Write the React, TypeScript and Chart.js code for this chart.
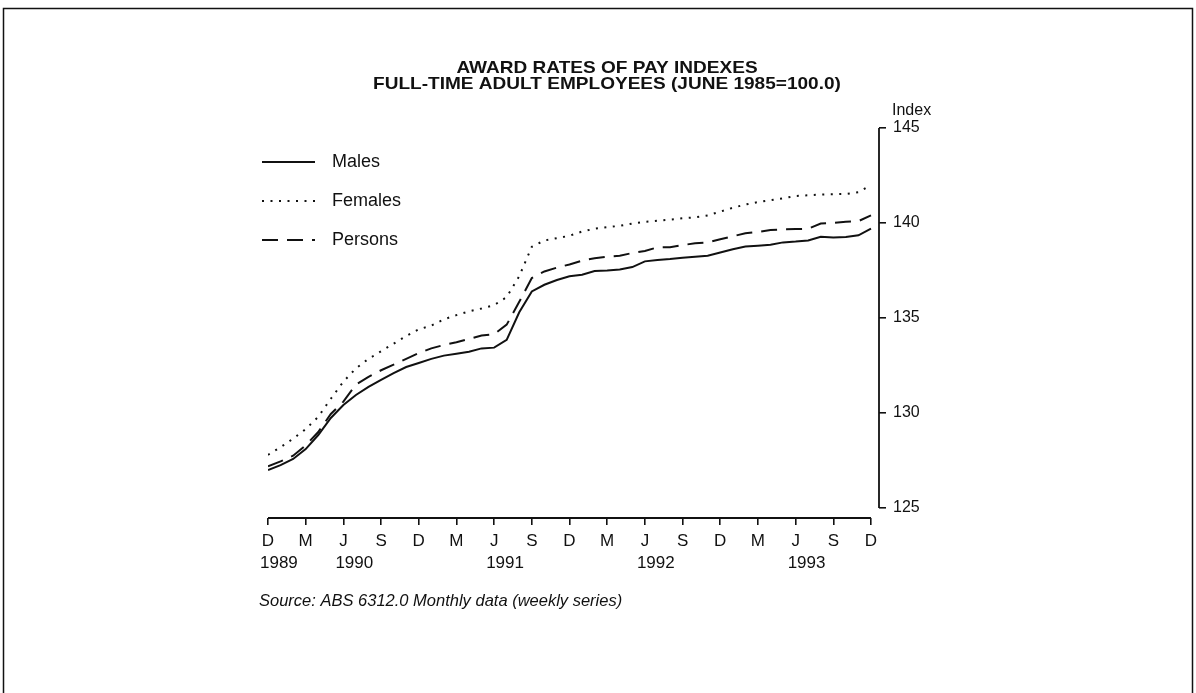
import React, { useEffect, useRef } from "react";
import { Chart, registerables } from "chart.js";

Chart.register(...registerables);

const MONTHS = [
  "Dec 1989",
  "Jan 1990", "Feb 1990", "Mar 1990", "Apr 1990", "May 1990", "Jun 1990", "Jul 1990", "Aug 1990", "Sep 1990", "Oct 1990", "Nov 1990", "Dec 1990",
  "Jan 1991", "Feb 1991", "Mar 1991", "Apr 1991", "May 1991", "Jun 1991", "Jul 1991", "Aug 1991", "Sep 1991", "Oct 1991", "Nov 1991", "Dec 1991",
  "Jan 1992", "Feb 1992", "Mar 1992", "Apr 1992", "May 1992", "Jun 1992", "Jul 1992", "Aug 1992", "Sep 1992", "Oct 1992", "Nov 1992", "Dec 1992",
  "Jan 1993", "Feb 1993", "Mar 1993", "Apr 1993", "May 1993", "Jun 1993", "Jul 1993", "Aug 1993", "Sep 1993", "Oct 1993", "Nov 1993", "Dec 1993",
];

const MALES = [
  127.0, 127.26, 127.58, 128.1, 128.84, 129.74, 130.42, 130.95, 131.37, 131.74, 132.1, 132.42, 132.63,
  132.85, 133.02, 133.12, 133.22, 133.4, 133.44, 133.85, 135.3, 136.4, 136.75, 137.0, 137.2,
  137.28, 137.47, 137.5, 137.55, 137.68, 137.98, 138.05, 138.1, 138.17, 138.22, 138.28, 138.45,
  138.62, 138.76, 138.8, 138.85, 138.98, 139.02, 139.08, 139.28, 139.24, 139.26, 139.35, 139.7,
];

const FEMALES = [
  127.8, 128.2, 128.65, 129.15, 129.8, 130.75, 131.65, 132.35, 132.85, 133.25, 133.65, 134.05, 134.4,
  134.6, 134.93, 135.15, 135.35, 135.5, 135.68, 136.1, 137.2, 138.75, 139.08, 139.2, 139.33,
  139.55, 139.7, 139.78, 139.85, 139.97, 140.06, 140.12, 140.18, 140.25, 140.3, 140.4, 140.6,
  140.8, 140.97, 141.1, 141.2, 141.3, 141.42, 141.46, 141.5, 141.52, 141.53, 141.62, 142.0,
];

const PERSONS = [
  127.2, 127.45, 127.75, 128.3, 129.0, 129.95, 130.6, 131.5, 131.9, 132.25, 132.55, 132.85, 133.15,
  133.4, 133.58, 133.72, 133.9, 134.08, 134.15, 134.65, 135.85, 137.1, 137.45, 137.65, 137.82,
  138.02, 138.15, 138.23, 138.28, 138.42, 138.53, 138.72, 138.73, 138.84, 138.93, 138.98, 139.14,
  139.3, 139.46, 139.53, 139.63, 139.67, 139.68, 139.7, 139.97, 140.0, 140.07, 140.1, 140.4,
];

const MONTH_TICK_CATEGORIES = [
  "Dec 1989", "Mar 1990", "Jun 1990", "Sep 1990", "Dec 1990", "Mar 1991", "Jun 1991", "Sep 1991",
  "Dec 1991", "Mar 1992", "Jun 1992", "Sep 1992", "Dec 1992", "Mar 1993", "Jun 1993", "Sep 1993", "Dec 1993",
];
const MONTH_TICK_LABELS = ["D", "M", "J", "S", "D", "M", "J", "S", "D", "M", "J", "S", "D", "M", "J", "S", "D"];
const YEAR_TICK_CATEGORIES = ["Dec 1989", "Jun 1990", "Jun 1991", "Jun 1992", "Jun 1993"];
const YEAR_TICK_LABELS = ["1989", "1990", "1991", "1992", "1993"];
const Y_TICKS = [125, 130, 135, 140, 145];

const TITLE_LINES = ["AWARD RATES OF PAY INDEXES", "FULL-TIME ADULT EMPLOYEES (JUNE 1985=100.0)"];
const SOURCE = "Source: ABS 6312.0 Monthly data (weekly series)";
const Y_UNIT = "Index";

const INK = "#111111";
const FONT = "'Liberation Sans', Arial, Helvetica, sans-serif";

const W = 1196;
const H = 693;
const PLOT_LEFT = 268;
const PLOT_TOP = 128;
const AXIS_RIGHT = 879;
const AXIS_BOTTOM = 518;
const Y_BOX = 80;
const XM_BOX = 37;
const XY_BOX = 30;

const decor = {
  id: "decor",
  afterDraw(chart: any) {
    const ctx = chart.ctx as CanvasRenderingContext2D;
    const xs = chart.scales.x;
    const ys = chart.scales.y;
    const area = chart.chartArea;
    ctx.save();
    ctx.strokeStyle = INK;
    ctx.fillStyle = INK;

    // frame
    ctx.lineWidth = 1.5;
    ctx.setLineDash([]);
    ctx.beginPath();
    ctx.moveTo(3.5, H + 2);
    ctx.lineTo(3.5, 8.5);
    ctx.lineTo(1192.5, 8.5);
    ctx.lineTo(1192.5, H + 2);
    ctx.stroke();

    // axis lines
    ctx.lineWidth = 1.8;
    ctx.beginPath();
    ctx.moveTo(xs.getPixelForValue(0), area.bottom);
    ctx.lineTo(xs.getPixelForValue(MONTHS.length - 1), area.bottom);
    ctx.stroke();
    ctx.beginPath();
    ctx.moveTo(area.right, ys.getPixelForValue(Y_TICKS[Y_TICKS.length - 1]));
    ctx.lineTo(area.right, ys.getPixelForValue(Y_TICKS[0]));
    ctx.stroke();

    // title (slightly widened bold face)
    ctx.textAlign = "center";
    ctx.textBaseline = "middle";
    ctx.font = `bold 17px ${FONT}`;
    ctx.save();
    ctx.translate(607, 0);
    ctx.scale(1.12, 1);
    ctx.fillText(TITLE_LINES[0], 0, 68);
    ctx.fillText(TITLE_LINES[1], 0, 84);
    ctx.restore();

    // unit label
    ctx.textAlign = "left";
    ctx.font = `16px ${FONT}`;
    ctx.fillText(Y_UNIT, 892, ys.getPixelForValue(145) - 17);

    // legend
    const rows = [162, 201, 240];
    chart.data.datasets.forEach((ds: any, i: number) => {
      const y = rows[i];
      ctx.lineWidth = ds.borderWidth;
      ctx.setLineDash(ds.borderDash || []);
      ctx.beginPath();
      ctx.moveTo(262, y);
      ctx.lineTo(315, y);
      ctx.stroke();
      ctx.setLineDash([]);
      ctx.font = `18px ${FONT}`;
      ctx.fillText(ds.label, 332, y);
    });

    // source
    ctx.font = `italic 16.5px ${FONT}`;
    ctx.fillText(SOURCE, 259, 601);
    ctx.restore();
  },
};

export default function App() {
  const ref = useRef<HTMLCanvasElement | null>(null);
  useEffect(() => {
    const canvas = ref.current;
    if (!canvas) return;
    const toPts = (arr: number[]) => arr.map((v, i) => ({ x: i, y: v }));
    const lastIdx = MONTHS.length - 1;
    const pxPerMonth = (871 - PLOT_LEFT) / lastIdx;
    const xMax = lastIdx + (AXIS_RIGHT - 871) / pxPerMonth;
    const pxPerUnit = (508 - PLOT_TOP) / (145 - 125);
    const yMin = 125 - (AXIS_BOTTOM - 508) / pxPerUnit;
    const tickFont = { family: FONT, size: 17 };
    const chart = new Chart(canvas, {
      type: "line",
      data: {
        datasets: [
          { label: "Males", data: toPts(MALES), borderColor: INK, borderWidth: 2, borderDash: [], pointRadius: 0, tension: 0, fill: false },
          { label: "Females", data: toPts(FEMALES), borderColor: INK, borderWidth: 2, borderDash: [2, 6.5], pointRadius: 0, tension: 0, fill: false },
          { label: "Persons", data: toPts(PERSONS), borderColor: INK, borderWidth: 2, borderDash: [16, 9], pointRadius: 0, tension: 0, fill: false },
        ],
      },
      options: {
        responsive: false,
        animation: false,
        devicePixelRatio: 1,
        layout: {
          padding: {
            left: PLOT_LEFT,
            top: PLOT_TOP,
            right: W - AXIS_RIGHT - Y_BOX,
            bottom: H - AXIS_BOTTOM - XM_BOX - XY_BOX,
          },
        },
        plugins: { legend: { display: false }, title: { display: false }, tooltip: { enabled: false } },
        scales: {
          x: {
            type: "linear",
            position: "bottom",
            min: 0,
            max: xMax,
            weight: 0,
            afterBuildTicks: (s: any) => {
              s.ticks = MONTH_TICK_CATEGORIES.map((c) => ({ value: MONTHS.indexOf(c) }));
            },
            afterFit: (s: any) => {
              s.height = XM_BOX;
            },
            grid: { display: true, drawOnChartArea: false, drawTicks: true, tickLength: 7, color: INK, lineWidth: 1.6 },
            border: { display: false },
            ticks: {
              autoSkip: false,
              maxRotation: 0,
              minRotation: 0,
              padding: 6,
              color: INK,
              font: tickFont,
              callback: (_v: any, i: number) => MONTH_TICK_LABELS[i],
            },
          },
          xYear: {
            type: "linear",
            position: "bottom",
            min: 0,
            max: xMax,
            weight: 1,
            afterBuildTicks: (s: any) => {
              s.ticks = YEAR_TICK_CATEGORIES.map((c) => ({ value: MONTHS.indexOf(c) }));
            },
            afterFit: (s: any) => {
              s.height = XY_BOX;
            },
            grid: { display: false, drawTicks: false },
            border: { display: false },
            ticks: {
              autoSkip: false,
              maxRotation: 0,
              minRotation: 0,
              align: "start",
              labelOffset: -8,
              padding: -2,
              color: INK,
              font: tickFont,
              callback: (_v: any, i: number) => YEAR_TICK_LABELS[i],
            },
          },
          y: {
            type: "linear",
            position: "right",
            min: yMin,
            max: 145,
            afterBuildTicks: (s: any) => {
              s.ticks = Y_TICKS.map((v) => ({ value: v }));
            },
            afterFit: (s: any) => {
              s.width = Y_BOX;
            },
            grid: { display: true, drawOnChartArea: false, drawTicks: true, tickLength: 7, color: INK, lineWidth: 1.6 },
            border: { display: false },
            ticks: {
              padding: 7,
              color: INK,
              font: { family: FONT, size: 16 },
              callback: (v: any) => String(v),
            },
          },
        },
      } as any,
      plugins: [decor],
    });
    return () => chart.destroy();
  }, []);
  return (
    <div style={{ position: "absolute", left: 0, top: 0, width: W, height: H, background: "#fff" }}>
      <canvas ref={ref} width={W} height={H} style={{ display: "block", width: W, height: H }} />
    </div>
  );
}
